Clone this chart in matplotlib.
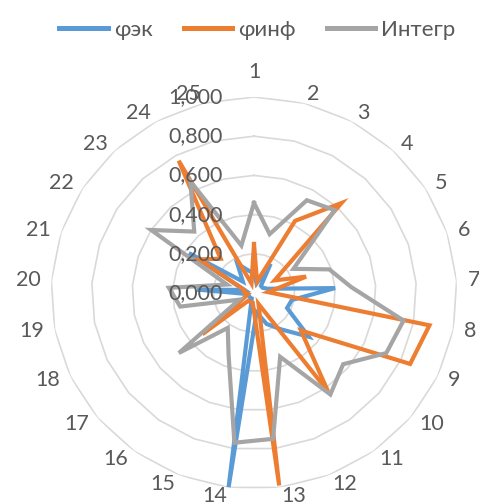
import numpy as np
import matplotlib
matplotlib.use("Agg")
import matplotlib.pyplot as plt

plt.rcParams['font.family'] = ['Lato', 'DejaVu Sans']

# 25 spokes, three series
categories = [str(i) for i in range(1, 26)]
phi_ek = [0.10, 0.05, 0.17, 0.05, 0.05, 0.07, 0.40, 0.19, 0.18, 0.35, 0.23, 0.17, 0.10,
          1.00, 0.03, 0.03, 0.03, 0.03, 0.03, 0.28, 0.05, 0.38, 0.08, 0.17, 0.12]
phi_inf = [0.25, 0.06, 0.42, 0.63, 0.12, 0.27, 0.07, 0.88, 0.85, 0.30, 0.62, 0.06, 0.99,
           0.05, 0.05, 0.05, 0.33, 0.05, 0.03, 0.05, 0.05, 0.32, 0.24, 0.77, 0.05]
integr = [0.46, 0.31, 0.54, 0.58, 0.23, 0.39, 0.48, 0.75, 0.72, 0.57, 0.64, 0.35, 0.75,
          0.77, 0.34, 0.22, 0.48, 0.08, 0.37, 0.42, 0.14, 0.60, 0.43, 0.65, 0.25]
series_names = ["φэк", "φинф", "Интегр"]
radial_ticks = [0.0, 0.2, 0.4, 0.6, 0.8, 1.0]

colors = ["#5B9BD5", "#ED7D31", "#A5A5A5"]
text_color = "#595959"
grid_color = "#D9D9D9"
fs = 15.5

W, H = 479, 503
fig = plt.figure(figsize=(W / 100, H / 100), dpi=100)
cx, cy, rx, ry = 254, 293, 203, 196
ax = fig.add_axes([(cx - rx) / W, (H - cy - ry) / H, 2 * rx / W, 2 * ry / H],
                  projection="polar")
ax.set_aspect("auto")
ax.set_theta_zero_location("N")
ax.set_theta_direction(-1)
ax.set_ylim(0, 1.0)

n = len(categories)
theta = np.arange(n) * 2 * np.pi / n
theta_closed = np.append(theta, theta[0])

# polygon gridlines like Excel
for r in radial_ticks[1:]:
    ax.plot(theta_closed, [r] * (n + 1), color=grid_color, lw=1.2, zorder=1)

ax.grid(False)
ax.spines["polar"].set_visible(False)
ax.set_yticks([])
ax.set_xticks([])
ax.patch.set_alpha(0)

for vals, name, c in zip([phi_ek, phi_inf, integr], series_names, colors):
    v = np.append(vals, vals[0])
    ax.plot(theta_closed, v, color=c, lw=3.0, label=name, zorder=3,
            solid_joinstyle="miter")

# category labels: anchored on a ring outside the grid, Excel-like alignment
A, B = 214, 205
for t, lab in zip(theta, categories):
    s, c = np.sin(t), np.cos(t)
    dx = A * s - rx * s
    dy = B * c - ry * c
    if lab == "1":
        dy += 16
    ha = "left" if s > 0.05 else ("right" if s < -0.05 else "center")
    ax.annotate(lab, xy=(t, 1.0), xytext=(dx, dy), textcoords="offset pixels",
                ha=ha, va="center", color=text_color, fontsize=fs,
                annotation_clip=False)

for r in radial_ticks:
    ax.annotate(f"{r:.3f}".replace(".", ","), xy=(0, r), xytext=(-31, 0),
                textcoords="offset pixels", ha="right", va="center",
                color=text_color, fontsize=fs, zorder=5, annotation_clip=False)

leg = fig.legend(loc="upper center", bbox_to_anchor=(0.537, 1.0), ncol=3, frameon=False,
                 fontsize=16, handlelength=2.2, handletextpad=0.25, columnspacing=1.4,
                 labelcolor=text_color)
for h in leg.legend_handles:
    h.set_linewidth(3.6)

fig.savefig("out.png", dpi=100)
